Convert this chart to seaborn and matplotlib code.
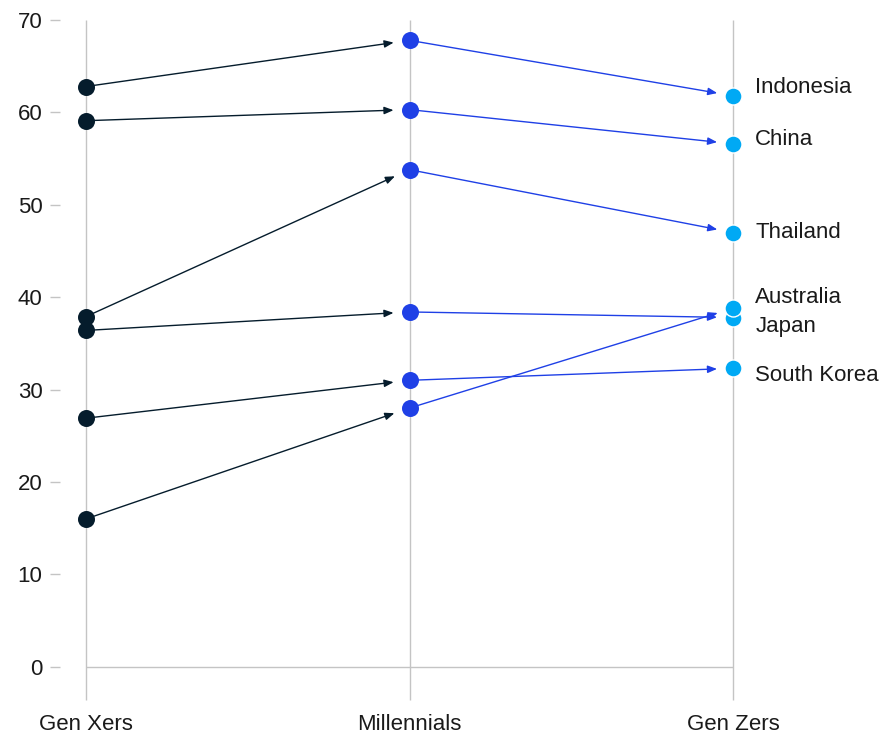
import matplotlib
matplotlib.use("Agg")
import matplotlib.pyplot as plt
import seaborn as sns
import pandas as pd

generations = ["Gen Xers", "Millennials", "Gen Zers"]
countries = ["Indonesia", "China", "Thailand", "Japan", "Australia", "South Korea"]
gen_x = [62.8, 59.1, 37.9, 36.4, 16.0, 26.9]
millennials = [67.8, 60.3, 53.8, 38.4, 28.0, 31.0]
gen_z = [61.8, 56.6, 47.0, 37.8, 38.8, 32.3]
y_ticks = [0, 10, 20, 30, 40, 50, 60, 70]

colors = {"Gen Xers": "#051c2c", "Millennials": "#1f40e6", "Gen Zers": "#00a9f4"}
# vertical nudges (points) for the country names so close neighbours don't collide
label_nudge = {"Indonesia": 6, "China": 3, "Thailand": 0,
               "Japan": -6.5, "Australia": 8, "South Korea": -5}

rows = []
for i, gen in enumerate(generations):
    vals = [gen_x, millennials, gen_z][i]
    for c, v in zip(countries, vals):
        rows.append({"country": c, "generation": gen, "pos": i, "value": v})
df = pd.DataFrame(rows)

sns.set_style("white")
plt.rcParams["font.family"] = ["Liberation Sans", "DejaVu Sans"]

W, H = 893, 734
fig = plt.figure(figsize=(W / 100, H / 100), dpi=100)
ax = fig.add_axes([86 / W, (H - 700) / H, (733 - 86) / W, 680 / H])
ymin = -3.6
ax.set_xlim(0, 2)
ax.set_ylim(ymin, 70)

# column guide lines and baseline
ax.vlines([0, 1, 2], ymin, 70, color="#c4c4c4", lw=1, zorder=0, clip_on=False)
ax.hlines(0, 0, 2, color="#c4c4c4", lw=1, zorder=0, clip_on=False)

# arrows between generations
wide = df.pivot(index="country", columns="generation", values="value")
for c in countries:
    for a, b in [(0, 1), (1, 2)]:
        ga, gb = generations[a], generations[b]
        ax.annotate("", xy=(b, wide.loc[c, gb]), xytext=(a, wide.loc[c, ga]),
                    arrowprops=dict(arrowstyle="-|>,head_length=0.55,head_width=0.22",
                                    color=colors[ga], lw=1, shrinkA=0, shrinkB=11.5),
                    zorder=2)

for gen in generations:
    sub = df[df["generation"] == gen]
    sns.scatterplot(data=sub, x="pos", y="value", color=colors[gen], s=150,
                    edgecolor="white" if gen == "Gen Zers" else colors[gen],
                    linewidth=1 if gen == "Gen Zers" else 0,
                    ax=ax, zorder=3, clip_on=False, legend=False)

# country names next to the last column
for c in countries:
    ax.annotate(c, xy=(2, wide.loc[c, "Gen Zers"]), xytext=(16, label_nudge[c]),
                textcoords="offset points", ha="left", va="center",
                fontsize=16, color="#1a1a1a", annotation_clip=False)

for s in ax.spines.values():
    s.set_visible(False)
ax.spines["left"].set_position(("outward", 18.7))

ax.set_yticks(y_ticks)
ax.set_yticklabels([str(t) for t in y_ticks])
ax.tick_params(axis="y", left=True, length=7.2, width=1, color="#c4c4c4",
               pad=5.5, labelsize=16, labelcolor="#1a1a1a")
ax.set_xticks([0, 1, 2])
ax.set_xticklabels(generations)
ax.tick_params(axis="x", bottom=True, length=0, pad=10, labelsize=16,
               labelcolor="#1a1a1a")
ax.set_xlabel("")
ax.set_ylabel("")
ax.grid(False)

fig.savefig("out.png", dpi=100)
